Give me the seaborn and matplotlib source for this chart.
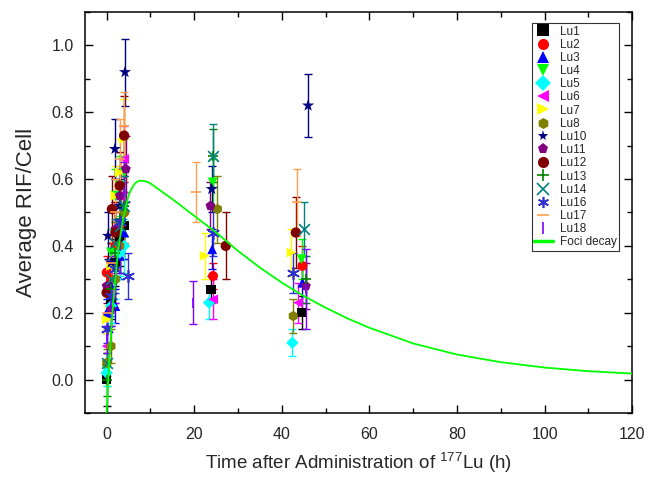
import numpy as np
import matplotlib
matplotlib.use("Agg")
import matplotlib.pyplot as plt
import seaborn as sns
from matplotlib.lines import Line2D
from matplotlib.ticker import MultipleLocator

########################################################
# Data
########################################################
series_names = ["Lu1", "Lu2", "Lu3", "Lu4", "Lu5", "Lu6", "Lu7", "Lu8",
                "Lu10", "Lu11", "Lu12", "Lu13", "Lu14", "Lu16", "Lu17", "Lu18"]

lu1_t = [0.0, 1.0, 2.0, 3.0, 4.0, 23.8, 44.5]
lu1_v = [0.00, 0.24, 0.35, 0.42, 0.46, 0.27, 0.20]
lu1_e = [0.08, 0.06, 0.07, 0.08, 0.10, 0.04, 0.05]

lu2_t = [0.0, 1.0, 2.0, 3.0, 4.0, 24.3, 44.7]
lu2_v = [0.32, 0.30, 0.40, 0.46, 0.50, 0.31, 0.34]
lu2_e = [0.05, 0.06, 0.07, 0.08, 0.09, 0.04, 0.06]

lu3_t = [0.0, 1.0, 2.0, 3.0, 4.0, 24.1, 44.7]
lu3_v = [0.20, 0.28, 0.22, 0.37, 0.44, 0.39, 0.29]
lu3_e = [0.04, 0.06, 0.05, 0.07, 0.08, 0.06, 0.06]

lu4_t = [0.0, 1.0, 2.0, 3.0, 4.0, 24.2, 44.5]
lu4_v = [0.03, 0.38, 0.55, 0.58, 0.62, 0.59, 0.36]
lu4_e = [0.05, 0.07, 0.08, 0.09, 0.10, 0.07, 0.06]

lu5_t = [0.0, 1.0, 2.0, 3.0, 4.0, 23.4, 42.4]
lu5_v = [0.02, 0.22, 0.30, 0.38, 0.40, 0.23, 0.11]
lu5_e = [0.04, 0.05, 0.06, 0.07, 0.08, 0.05, 0.04]

lu6_t = [0.0, 1.0, 2.0, 3.0, 4.0, 24.3, 43.7]
lu6_v = [0.10, 0.26, 0.45, 0.55, 0.66, 0.24, 0.23]
lu6_e = [0.04, 0.06, 0.08, 0.09, 0.10, 0.06, 0.06]

lu7_t = [0.0, 1.0, 2.0, 3.0, 4.0, 22.4, 42.2]
lu7_v = [0.18, 0.34, 0.55, 0.62, 0.72, 0.37, 0.38]
lu7_e = [0.04, 0.07, 0.09, 0.10, 0.12, 0.07, 0.07]

lu8_t = [0.0, 1.0, 2.0, 3.0, 4.0, 25.3, 42.6]
lu8_v = [0.05, 0.10, 0.30, 0.40, 0.50, 0.51, 0.19]
lu8_e = [0.04, 0.05, 0.07, 0.08, 0.09, 0.10, 0.05]

lu10_t = [0.3, 1.0, 1.9, 3.0, 4.2, 24.0, 46.0]
lu10_v = [0.43, 0.35, 0.69, 0.52, 0.92, 0.57, 0.82]
lu10_e = [0.07, 0.06, 0.09, 0.08, 0.10, 0.07, 0.095]

lu11_t = [0.0, 1.0, 2.0, 3.0, 4.4, 23.7, 45.5]
lu11_v = [0.28, 0.21, 0.45, 0.55, 0.63, 0.52, 0.28]
lu11_e = [0.05, 0.05, 0.07, 0.08, 0.10, 0.07, 0.07]

lu12_t = [0.0, 1.2, 2.0, 3.0, 4.0, 27.2, 43.2]
lu12_v = [0.26, 0.51, 0.44, 0.58, 0.73, 0.40, 0.44]
lu12_e = [0.06, 0.10, 0.09, 0.10, 0.12, 0.10, 0.107]

lu13_t = [0.0, 1.0, 2.0, 3.0, 4.0, 24.3, 45.6]
lu13_v = [0.00, 0.27, 0.38, 0.48, 0.52, 0.67, 0.30]
lu13_e = [0.05, 0.06, 0.07, 0.08, 0.09, 0.08, 0.07]

lu14_t = [0.0, 1.0, 2.0, 3.0, 4.0, 24.3, 45.0]
lu14_v = [0.05, 0.30, 0.41, 0.46, 0.52, 0.67, 0.45]
lu14_e = [0.05, 0.06, 0.07, 0.08, 0.09, 0.095, 0.08]

lu16_t = [0.0, 1.0, 2.0, 3.0, 4.9, 24.2, 42.6]
lu16_v = [0.15, 0.25, 0.33, 0.47, 0.31, 0.44, 0.32]
lu16_e = [0.04, 0.06, 0.07, 0.08, 0.07, 0.07, 0.06]

lu17_t = [0.0, 1.0, 2.0, 3.0, 4.0, 20.5, 43.5]
lu17_v = [0.20, 0.35, 0.50, 0.66, 0.76, 0.56, 0.53]
lu17_e = [0.05, 0.08, 0.10, 0.12, 0.10, 0.09, 0.10]

lu18_t = [0.0, 1.0, 2.0, 3.0, 4.0, 19.8, 45.6]
lu18_v = [0.12, 0.22, 0.30, 0.40, 0.56, 0.23, 0.27]
lu18_e = [0.04, 0.06, 0.07, 0.08, 0.09, 0.065, 0.12]

# Foci decay curve
decay_t = [0.0, 0.5, 1, 1.5, 2, 2.5, 3, 3.5, 4, 4.5, 5, 5.5, 6, 6.5, 7, 7.5, 8,
           9, 10, 12, 15, 20, 25, 30, 35, 40, 45, 50, 55, 60, 70, 80, 90, 100,
           110, 120]
decay_v = [-0.10, 0.03, 0.14, 0.23, 0.305, 0.37, 0.42, 0.46, 0.495, 0.525,
           0.55, 0.566, 0.578, 0.587, 0.592, 0.595, 0.595, 0.593, 0.587, 0.568,
           0.54, 0.49, 0.44, 0.385, 0.335, 0.29, 0.25, 0.215, 0.183, 0.155,
           0.108, 0.075, 0.052, 0.036, 0.025, 0.018]

########################################################
# Styles
########################################################
series_t = [lu1_t, lu2_t, lu3_t, lu4_t, lu5_t, lu6_t, lu7_t, lu8_t,
            lu10_t, lu11_t, lu12_t, lu13_t, lu14_t, lu16_t, lu17_t, lu18_t]
series_v = [lu1_v, lu2_v, lu3_v, lu4_v, lu5_v, lu6_v, lu7_v, lu8_v,
            lu10_v, lu11_v, lu12_v, lu13_v, lu14_v, lu16_v, lu17_v, lu18_v]
series_e = [lu1_e, lu2_e, lu3_e, lu4_e, lu5_e, lu6_e, lu7_e, lu8_e,
            lu10_e, lu11_e, lu12_e, lu13_e, lu14_e, lu16_e, lu17_e, lu18_e]

colors = ["#000000", "#ff0000", "#0000ff", "#00ff00", "#00ffff", "#ff00ff",
          "#ffff00", "#808000", "#000080", "#800080", "#800000", "#008000",
          "#008080", "#3030d0", "#ff9f4f", "#8000ff"]
markers = ["s", "o", "^", "v", "D", "<", ">", "h",
           "*", "p", "o", "+", "x", (6, 2, 0), "_", "|"]
sizes = [45, 50, 50, 50, 40, 50, 50, 55, 85, 55, 55, 60, 60, 70, 60, 60]

########################################################
# Plot
########################################################
sns.set_style("ticks")
plt.rcParams["font.family"] = ["Liberation Sans", "DejaVu Sans"]
plt.rcParams["mathtext.fontset"] = "custom"
plt.rcParams["mathtext.rm"] = "Liberation Sans"

fig = plt.figure(figsize=(6.62, 4.78), dpi=100)
ax = fig.add_axes([0.128, 0.136, 0.827, 0.839])

handles = []
for name, t, v, e, c, m, s in zip(series_names, series_t, series_v, series_e,
                                   colors, markers, sizes):
    ax.errorbar(t, v, yerr=e, fmt="none", ecolor=c, elinewidth=1,
                capsize=3, capthick=1, zorder=2)
    line_marker = m in ["+", "x", "_", "|", (6, 2, 0)]
    sns.scatterplot(x=t, y=v, ax=ax, marker=m, s=s, color=c,
                    edgecolor=c if line_marker else "none",
                    linewidth=1.2 if line_marker else 0, zorder=3)
    handles.append(Line2D([], [], linestyle="none", marker=m, color=c,
                          markersize=8, markeredgewidth=1.2 if line_marker else 0,
                          label=name))

sns.lineplot(x=decay_t, y=decay_v, ax=ax, color="#00ff00", linewidth=1.3,
             zorder=4)
handles.append(Line2D([], [], color="#00ff00", linewidth=2.5, label="Foci decay"))

ax.set_xlim(-5, 120)
ax.set_ylim(-0.1, 1.1)
ax.xaxis.set_major_locator(MultipleLocator(20))
ax.xaxis.set_minor_locator(MultipleLocator(10))
ax.yaxis.set_major_locator(MultipleLocator(0.2))
ax.yaxis.set_minor_locator(MultipleLocator(0.1))
ax.yaxis.set_major_formatter(matplotlib.ticker.FormatStrFormatter("%.1f"))
ax.tick_params(which="both", direction="in", top=True, right=True,
               labelsize=11.5, width=1, color="black", pad=8)
ax.tick_params(axis="x", which="both", pad=10)
ax.tick_params(which="major", length=6)
ax.tick_params(which="minor", length=3.5)
for sp in ax.spines.values():
    sp.set_linewidth(1.1)
    sp.set_color("black")

ax.set_xlabel(r"Time after Administration of $^{177}$Lu (h)", fontsize=13.5,
              labelpad=6)
ax.set_ylabel("Average RIF/Cell", fontsize=16, labelpad=10)

leg = ax.legend(handles=handles, loc="upper right", fontsize=8.5,
                frameon=True, fancybox=False, edgecolor="black",
                handlelength=1.6, handletextpad=0.6, labelspacing=0.1,
                borderpad=0.2, borderaxespad=0,
                bbox_to_anchor=(0.976, 0.972))
leg.get_frame().set_linewidth(0.8)

fig.savefig("out.png", dpi=100)
